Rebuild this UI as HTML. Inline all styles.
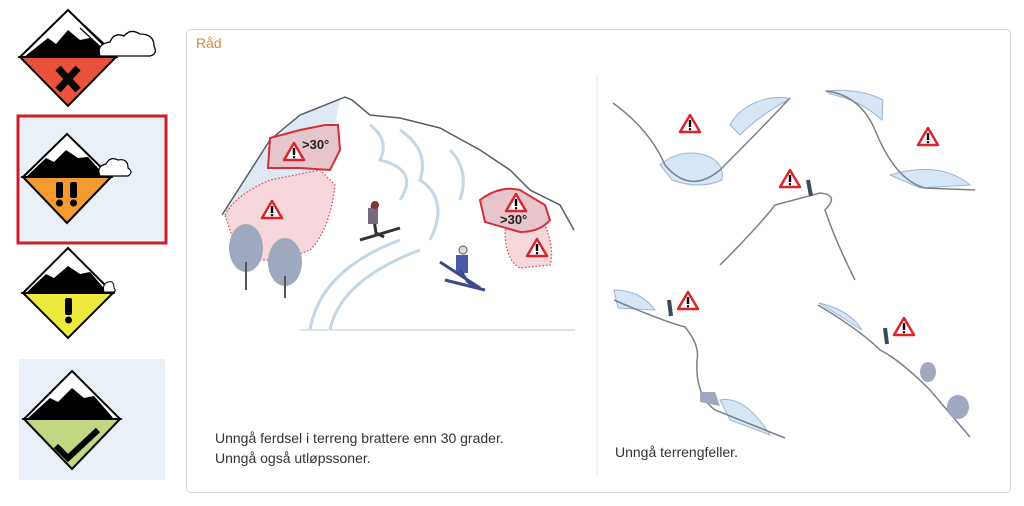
<!DOCTYPE html>
<html><head><meta charset="utf-8"><style>
body{margin:0;width:1024px;height:506px;background:#fff;overflow:hidden;font-family:"Liberation Sans",sans-serif}
svg{position:absolute;left:0;top:0}
</style></head><body>
<svg width="1024" height="506" viewBox="0 0 1024 506" xmlns="http://www.w3.org/2000/svg">
<defs>
<g id="w"><path d="M0,-9 L10,8 L-10,8 Z" fill="#fff" stroke="#d9262c" stroke-width="2.5" stroke-linejoin="round"/><rect x="-1.2" y="-4" width="2.4" height="7" fill="#000"/><circle cx="0" cy="5.2" r="1.2"/></g>
</defs>
<rect x="18" y="116" width="148" height="127" fill="#e9f0f8" stroke="#cc1f26" stroke-width="3"/>
<rect x="19" y="359" width="146" height="121" fill="#e9f0f8"/>
<!-- icon 1 -->
<path d="M68,10 L116,57 L20,57 Z" fill="#fff" stroke="#000" stroke-width="2"/>
<path d="M24,57 L48,38 L56,44 L68,30 L80,40 L90,38 L110,57 Z" fill="#000"/>
<path d="M80,28 L108,54 M84,25 L112,51" stroke="#000" stroke-width="1.2"/>
<path d="M100,56 q-4,-12 10,-14 q4,-10 14,-6 q6,-8 16,-2 q14,0 14,12 q4,8 -4,10 z" fill="#fff" stroke="#000" stroke-width="1.3"/>
<path d="M20,57 L116,57 L68,106 Z" fill="#e8523a" stroke="#000" stroke-width="2"/>
<path d="M58,68 L78,90 M78,68 L58,90" stroke="#000" stroke-width="7"/>
<!-- icon 2 -->
<path d="M67,134 L111,177 L23,177 Z" fill="#fff" stroke="#000" stroke-width="2"/>
<path d="M26,177 L46,158 L54,162 L66,150 L78,158 L88,157 L106,177 Z" fill="#000"/>
<path d="M100,176 q-4,-10 6,-12 q4,-8 12,-4 q10,-2 10,8 q6,4 0,8 z" fill="#fff" stroke="#000" stroke-width="1.2"/>
<path d="M23,177 L111,177 L67,223 Z" fill="#f59a31" stroke="#000" stroke-width="2"/>
<rect x="56" y="182" width="7" height="16" rx="2"/><circle cx="59.5" cy="203" r="3.5"/>
<rect x="70" y="182" width="7" height="16" rx="2"/><circle cx="73.5" cy="203" r="3.5"/>
<!-- icon 3 -->
<path d="M68,248 L113,293 L23,293 Z" fill="#fff" stroke="#000" stroke-width="2"/>
<path d="M26,293 L46,274 L54,278 L68,266 L80,274 L90,272 L108,293 Z" fill="#000"/>
<path d="M104,292 q-2,-8 4,-10 q6,-2 6,6 q3,3 -1,4 z" fill="#fff" stroke="#000" stroke-width="1"/>
<path d="M23,293 L113,293 L68,338 Z" fill="#eeea3e" stroke="#000" stroke-width="2"/>
<rect x="65" y="298" width="7" height="17" rx="2"/><circle cx="68.5" cy="320" r="3.5"/>
<!-- icon 4 -->
<path d="M72,371 L120,419 L24,419 Z" fill="#fff" stroke="#000" stroke-width="2"/>
<path d="M27,419 L50,398 L58,402 L72,388 L84,398 L94,396 L114,419 Z" fill="#000"/>
<path d="M24,419 L120,419 L72,469 Z" fill="#c1d781" stroke="#000" stroke-width="2"/>
<path d="M56,446 L68,458 L98,430" fill="none" stroke="#000" stroke-width="6"/>
<!-- panel -->
<rect x="186.5" y="29.5" width="824" height="463" rx="4" fill="#fff" stroke="#d6d6d6"/>
<line x1="597" y1="75" x2="597" y2="475" stroke="#e6e6e6"/>
<text x="196" y="48" font-size="14" fill="#d48a3a">Råd</text>
<!-- mountain -->
<path d="M225,210 L260,155 L300,115 L340,100 L330,150 L310,200 L290,250 L245,260 Z" fill="#dfe9f3"/>
<path d="M222,215 L270,140 L300,115 L345,97 L352,100 L370,115 L400,118 L440,128 L480,150 L510,170 L530,190 L560,205 L574,230" fill="none" stroke="#555d69" stroke-width="1.5"/>
<path d="M225,215 Q235,195 270,180 L320,170 L335,185 Q330,230 310,250 L285,260 L240,260 Z" fill="#f5d7dc" stroke="#d9404a" stroke-width="1.2" stroke-dasharray="1.5 2"/>
<path d="M270,138 L300,130 L325,125 L338,125 L340,150 L330,170 L300,168 L268,168 Z" fill="#e6c5cd" stroke="#d32f3a" stroke-width="2"/>
<text x="302" y="149" font-size="13" font-weight="bold" fill="#222">&gt;30°</text>
<use href="#w" x="294" y="152"/><use href="#w" x="272" y="210"/>
<path d="M505,230 L545,225 Q555,250 550,265 L520,268 Q505,260 505,230 Z" fill="#f5d7dc" stroke="#d9404a" stroke-width="1.2" stroke-dasharray="1.5 2"/>
<path d="M480,200 Q500,185 520,190 L545,205 L550,220 Q540,232 520,232 L485,222 Z" fill="#e6c5cd" stroke="#d32f3a" stroke-width="2"/>
<text x="500" y="224" font-size="13" font-weight="bold" fill="#222">&gt;30°</text>
<use href="#w" x="516" y="203"/><use href="#w" x="537" y="248"/>
<path d="M310,330 Q320,270 400,240 M330,330 Q340,280 420,250 M370,125 Q390,140 380,160 Q420,170 400,200 M400,130 Q430,150 420,180 Q450,200 430,240 M450,150 Q470,170 460,200" fill="none" stroke="#c5d6e6" stroke-width="3"/>
<path d="M300,330 L575,330" stroke="#d7e3ee" stroke-width="2"/>
<g fill="#9ea8bf"><ellipse cx="246" cy="248" rx="17" ry="24"/><ellipse cx="285" cy="262" rx="17" ry="24"/></g>
<path d="M246,262 V290 M285,276 V298" stroke="#555" stroke-width="2"/>
<path d="M372,205 l4,28 l8,4 M360,240 l40,-12" stroke="#333" stroke-width="3" fill="none"/>
<rect x="368" y="208" width="10" height="16" fill="#7a6a80"/>
<circle cx="375" cy="205" r="4" fill="#833"/>
<rect x="456" y="255" width="12" height="18" fill="#4a5aa8"/>
<path d="M460,270 l8,12 l10,5 M440,262 l40,26 M445,280 l40,10" stroke="#3a4a8a" stroke-width="3" fill="none"/>
<circle cx="463" cy="250" r="4" fill="#ddd" stroke="#555"/>
<text x="215" y="443" font-size="14" fill="#333">Unngå ferdsel i terreng brattere enn 30 grader.</text>
<text x="215" y="463" font-size="14" fill="#333">Unngå også utløpssoner.</text>
<!-- right side -->
<g fill="#d6e6f5" stroke="#9bb6d3" stroke-width="1">
<path d="M660,165 Q680,148 705,155 Q725,162 722,180 Q700,190 672,180 Z"/>
<path d="M730,125 Q740,105 770,98 Q790,96 788,100 Q760,115 740,135 Z"/>
<path d="M826,91 Q860,88 883,100 L882,120 Q860,100 830,94 Z"/>
<path d="M890,175 Q940,160 970,185 L920,188 Z"/>
<path d="M614,290 Q640,290 655,310 L618,308 Z"/>
<path d="M819,303 Q850,310 862,330 Z"/>
<path d="M720,400 Q745,395 770,435 L730,420 Z"/>
</g>
<g fill="none" stroke="#7b8089" stroke-width="1.5">
<path d="M613,103 Q650,130 665,165 Q690,195 720,170 Q760,130 790,98"/>
<path d="M826,91 Q860,95 875,130 Q895,180 925,188 L975,190"/>
<path d="M720,265 Q760,225 775,205 L820,193 Q840,195 825,210 Q835,240 855,280"/>
<path d="M614,300 Q660,320 685,327 Q700,345 697,360 Q695,395 715,410 L785,438"/>
<path d="M818,305 Q860,330 880,350 Q900,360 930,390 L970,437"/>
</g>
<use href="#w" x="690" y="124"/><use href="#w" x="928" y="137"/><use href="#w" x="790" y="179"/>
<use href="#w" x="688" y="301"/><use href="#w" x="904" y="327"/>
<g fill="#9ea8bf"><ellipse cx="928" cy="372" rx="8" ry="10"/><ellipse cx="958" cy="407" rx="11" ry="12"/><path d="M700,392 l15,0 l5,14 l-20,-4 z"/></g>
<path d="M808,180 l3,16 M669,300 l2,16 M885,328 l2,16" stroke="#3a4a5a" stroke-width="4"/>
<text x="615" y="457" font-size="14" fill="#333">Unngå terrengfeller.</text>
</svg>
</body></html>
